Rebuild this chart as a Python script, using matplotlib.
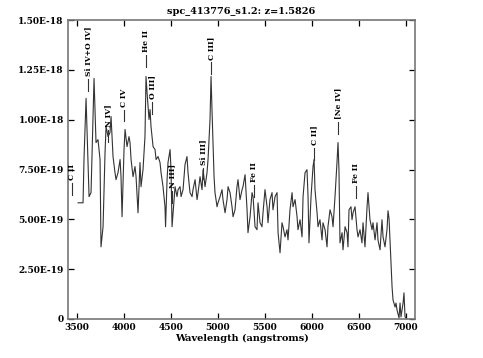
import numpy as np
import matplotlib
matplotlib.use("Agg")
import matplotlib.pyplot as plt

# --- DATA ---
wave = [3511, 3564, 3574, 3596, 3628, 3649, 3681, 3702, 3723, 3745, 3755, 3777, 3798, 3809,
        3830, 3851, 3862, 3883, 3904, 3915, 3936, 3958, 3968, 3979, 4000, 4011, 4032, 4053,
        4064, 4075, 4096, 4117, 4128, 4149, 4170, 4181, 4202, 4223, 4234, 4245, 4266, 4277,
        4287, 4309, 4330, 4341, 4362, 4383, 4394, 4415, 4436, 4442, 4458, 4468, 4490, 4500,
        4511, 4532, 4543, 4564, 4575, 4596, 4607, 4628, 4649, 4670, 4681, 4702, 4724, 4734,
        4756, 4777, 4788, 4809, 4830, 4841, 4862, 4883, 4894, 4915, 4926, 4936, 4958, 4968,
        4990, 5000, 5022, 5043, 5053, 5075, 5096, 5107, 5128, 5149, 5160, 5181, 5202, 5213,
        5234, 5256, 5266, 5288, 5309, 5319, 5341, 5362, 5373, 5394, 5415, 5426, 5447, 5468,
        5479, 5500, 5522, 5532, 5553, 5575, 5585, 5607, 5628, 5639, 5660, 5681, 5692, 5713,
        5734, 5745, 5766, 5788, 5798, 5820, 5841, 5851, 5873, 5894, 5905, 5926, 5947, 5958,
        5968, 5990, 6011, 6022, 6032, 6054, 6064, 6085, 6107, 6117, 6139, 6160, 6170, 6192,
        6213, 6224, 6245, 6266, 6277, 6287, 6298, 6320, 6330, 6352, 6373, 6383, 6394, 6415,
        6426, 6437, 6458, 6479, 6490, 6511, 6532, 6543, 6564, 6586, 6596, 6617, 6639, 6649,
        6671, 6692, 6702, 6724, 6745, 6756, 6777, 6798, 6809, 6820, 6841, 6852, 6862, 6884,
        6894, 6905, 6926, 6937, 6947, 6969, 6979, 6990, 7011]
# flux in units of 1e-19
flux = [5.83, 5.83, 8.00, 11.07, 6.14, 6.34, 12.07, 8.85, 9.00, 8.00, 3.62, 4.63, 8.35, 9.66,
        9.15, 9.36, 10.16, 8.15, 7.34, 6.99, 7.34, 8.00, 7.14, 5.13, 8.50, 9.51, 8.65, 9.15,
        8.85, 8.00, 7.14, 7.65, 7.14, 5.33, 7.85, 6.64, 7.49, 9.15, 12.17, 11.37, 10.01, 10.51,
        9.66, 8.65, 8.50, 8.00, 8.15, 7.85, 7.34, 6.64, 5.63, 4.63, 6.99, 7.85, 8.50, 7.49,
        4.63, 5.99, 6.64, 6.14, 6.49, 6.64, 6.14, 6.49, 7.75, 8.15, 7.34, 6.34, 6.14, 6.49,
        6.99, 5.99, 6.34, 7.14, 6.49, 7.49, 6.64, 7.34, 8.00, 10.01, 12.17, 10.51, 7.14, 6.34,
        5.63, 5.83, 6.14, 6.49, 5.99, 5.33, 5.99, 6.64, 6.34, 5.63, 5.13, 5.48, 6.64, 6.99,
        5.99, 6.49, 6.64, 7.24, 5.48, 4.33, 5.13, 6.34, 6.14, 4.63, 4.48, 5.83, 4.83, 4.63,
        5.33, 6.49, 5.63, 4.83, 5.99, 6.34, 5.48, 6.14, 6.34, 4.33, 3.32, 4.83, 4.63, 4.12,
        4.48, 3.97, 5.48, 6.34, 5.63, 5.99, 5.13, 4.48, 4.98, 4.12, 6.14, 7.34, 7.49, 6.14,
        3.82, 6.14, 7.65, 8.00, 6.49, 5.33, 4.63, 4.98, 3.97, 4.83, 4.48, 3.62, 4.63, 5.48,
        5.13, 4.63, 6.14, 7.85, 8.85, 7.49, 3.82, 4.33, 3.47, 4.63, 4.33, 3.62, 5.48, 5.63,
        4.98, 5.33, 5.63, 4.48, 4.12, 4.48, 3.82, 4.83, 3.62, 5.63, 6.34, 4.98, 4.48, 4.83,
        3.97, 4.83, 3.97, 3.47, 4.98, 4.12, 3.62, 4.48, 5.43, 5.03, 2.82, 1.61, 0.96, 0.60,
        0.80, 0.45, 0.05, 0.80, 0.10, 0.80, 1.31, 0.10, 0.00]

# line ids: name, wavelength, flux at bottom of marker (1e-19)
line_names = ['C II', 'Si IV+O IV]', 'N IV]', 'C IV', 'He II', 'O III]', 'N III]',
              'Si III]', 'C III]', 'Fe II', 'C II]', '[Ne IV]', 'Fe II']
line_waves = [3448, 3616, 3830, 4000, 4235, 4298, 4511, 4841, 4926, 5383, 6022, 6277, 6468]
line_base = [6.24, 11.42, 8.90, 9.91, 12.63, 10.30, 5.80, 7.00, 12.27, 6.14, 8.00, 9.26, 6.09]

title = 'spc_413776_s1.2: z=1.5826'
ytick_vals = [0, 2.5e-19, 5e-19, 7.5e-19, 1e-18, 1.25e-18, 1.5e-18]
ytick_labels = ['0', '2.50E-19', '5.00E-19', '7.50E-19', '1.00E-18', '1.25E-18', '1.50E-18']
xtick_vals = [3500, 4000, 4500, 5000, 5500, 6000, 6500, 7000]

plt.rcParams['font.family'] = ['DejaVu Serif']
plt.rcParams['font.weight'] = 'bold'

fig = plt.figure(figsize=(4.83, 3.58), dpi=100)
ax = fig.add_axes([0.1408, 0.109, 0.7184, 0.835])

ax.plot(wave, np.array(flux) * 1e-19, color='#333333', lw=0.8)

# line markers: short tick + rotated label above it
tick_h = 0.6e-20 * 10
for name, w, b in zip(line_names, line_waves, line_base):
    ax.plot([w, w], [b * 1e-19, b * 1e-19 + tick_h], color='#333333', lw=0.8)
    ax.text(w, b * 1e-19 + tick_h + 0.15e-19, name, rotation=90, ha='center', va='bottom',
            fontsize=5.5, fontweight='bold', color='black')

ax.set_xlim(3404, 7096)
ax.set_ylim(0, 1.5e-18)
ax.set_xticks(xtick_vals)
ax.set_yticks(ytick_vals)
ax.set_yticklabels(ytick_labels)
ax.tick_params(direction='in', top=True, right=True, labelsize=6.5, length=4, width=0.9,
               pad=3, colors='black')
for s in ax.spines.values():
    s.set_color('#777777')
    s.set_linewidth(1.2)

ax.set_xlabel('Wavelength (angstroms)', fontsize=7, fontweight='bold', labelpad=1)
ax.set_title(title, fontsize=7, fontweight='bold', pad=4)

fig.savefig('out.png', dpi=100)
